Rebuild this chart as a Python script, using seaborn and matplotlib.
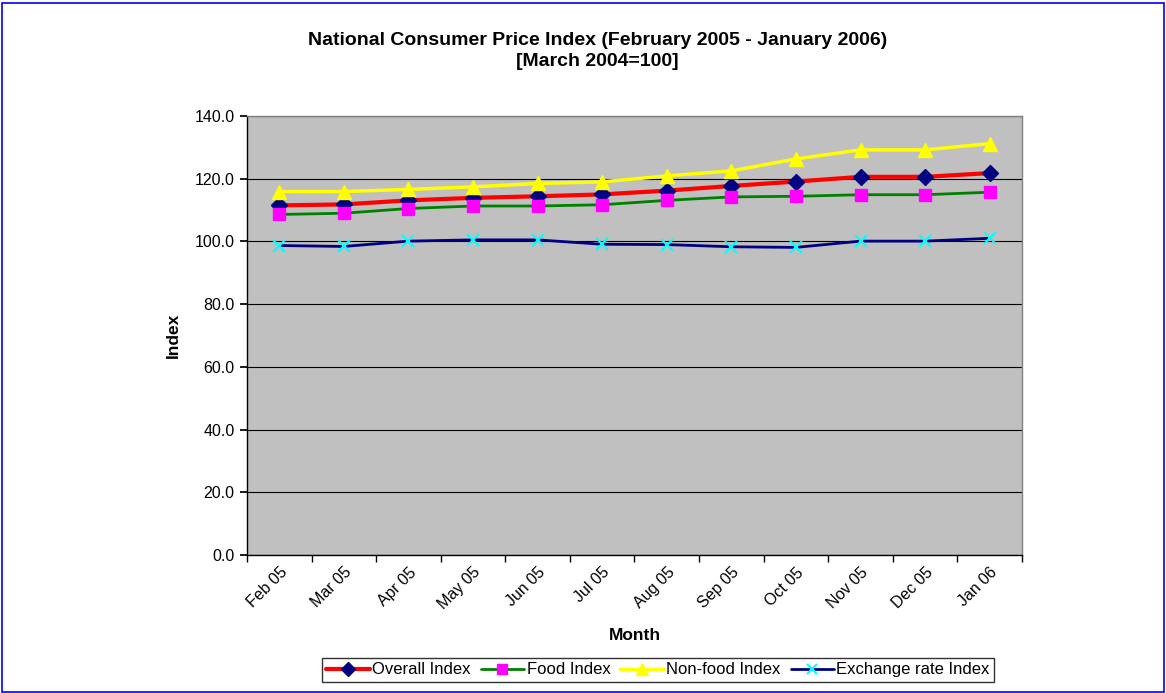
import numpy as np
import pandas as pd
import matplotlib
matplotlib.use('Agg')
import matplotlib.pyplot as plt
import seaborn as sns
from matplotlib.patches import Rectangle

# data
months = ['Feb 05', 'Mar 05', 'Apr 05', 'May 05', 'Jun 05', 'Jul 05',
          'Aug 05', 'Sep 05', 'Oct 05', 'Nov 05', 'Dec 05', 'Jan 06']
overall = [111.5, 111.8, 113.1, 113.9, 114.4, 115.0, 116.2, 117.7, 119.1, 120.6, 120.6, 121.8]
food = [108.6, 109.0, 110.5, 111.3, 111.3, 111.7, 113.1, 114.2, 114.4, 114.9, 114.9, 115.7]
nonfood = [115.9, 115.9, 116.6, 117.4, 118.5, 119.0, 120.9, 122.5, 126.3, 129.2, 129.2, 131.2]
exchange = [98.7, 98.4, 100.1, 100.5, 100.5, 99.1, 99.0, 98.3, 98.1, 100.1, 100.1, 101.0]

series = {
    'Overall Index': overall,
    'Food Index': food,
    'Non-food Index': nonfood,
    'Exchange rate Index': exchange,
}
df = pd.DataFrame([(m, name, v) for name, vals in series.items() for m, v in zip(months, vals)],
                  columns=['Month', 'Series', 'Index'])

sns.set_theme(style='white')
plt.rcParams['font.family'] = ['Liberation Sans', 'DejaVu Sans']
plt.rcParams['text.color'] = 'black'
plt.rcParams['axes.labelcolor'] = 'black'
plt.rcParams['xtick.color'] = 'black'
plt.rcParams['ytick.color'] = 'black'

fig = plt.figure(figsize=(11.66, 6.93), dpi=100)
ax = fig.add_axes([0.2118, 0.1991, 0.6647, 0.6335])
ax.set_facecolor('#C0C0C0')

styles = {
    'Overall Index': dict(color='#FF0000', lw=3.0, marker='D', mfc='#000080', mec='#000080', ms=8),
    'Food Index': dict(color='#008000', lw=2.0, marker='s', mfc='#FF00FF', mec='#FF00FF', ms=9),
    'Non-food Index': dict(color='#FFFF00', lw=2.5, marker='^', mfc='#FFFF00', mec='#FFFF00', ms=10),
    'Exchange rate Index': dict(color='#000080', lw=2.0, marker='x', mfc='#00FFFF', mec='#00FFFF', ms=9, mew=1.5),
}

handles = []
for name in series:
    st = styles[name]
    sub = df[df['Series'] == name]
    sns.lineplot(data=sub, x='Month', y='Index', ax=ax, color=st['color'], linewidth=st['lw'],
                 marker=st['marker'], markerfacecolor=st['mfc'], markeredgecolor=st['mec'],
                 markersize=st['ms'], markeredgewidth=st.get('mew', 1.0), sort=False)
    handles.append(ax.lines[-1])

ax.set_xlim(-0.5, 11.5)
ax.set_ylim(0, 140)
ax.set_yticks(np.arange(0, 141, 20))
ax.set_yticklabels(['%.1f' % v for v in np.arange(0, 141, 20)], fontsize=11.5)
ax.yaxis.grid(True, color='black', linewidth=0.8)
ax.set_axisbelow(True)

ax.set_xticks(range(len(months)))
ax.set_xticklabels(months, rotation=45, ha='right', rotation_mode='anchor', fontsize=11.5)
ax.set_xticks(np.arange(-0.5, 12, 1), minor=True)
ax.tick_params(axis='x', which='major', length=0, pad=7)
ax.tick_params(axis='x', which='minor', length=5, color='black', bottom=True)
ax.tick_params(axis='y', length=5, color='black', left=True, pad=4)

for s in ['left', 'bottom']:
    ax.spines[s].set_color('black')
    ax.spines[s].set_linewidth(1.0)
for s in ['top', 'right']:
    ax.spines[s].set_color('#808080')
    ax.spines[s].set_linewidth(1.0)

ax.set_xlabel('Month', fontsize=12.5, fontweight='bold', labelpad=11)
ax.set_ylabel('Index', fontsize=12.5, fontweight='bold', labelpad=10)

fig.text(0.5126, 0.941, 'National Consumer Price Index (February 2005 - January 2006)',
         ha='center', va='center', fontsize=14, fontweight='bold')
fig.text(0.5126, 0.911, '[March 2004=100]', ha='center', va='center', fontsize=14, fontweight='bold')

leg = fig.legend(handles, list(series.keys()), loc='center', bbox_to_anchor=(0.5644, 0.0332),
                 ncol=4, frameon=True, fontsize=12, fancybox=False, handlelength=2.6,
                 columnspacing=0.6, handletextpad=0.15, borderpad=0.25, markerscale=0.85)
leg.get_frame().set_edgecolor('black')
leg.get_frame().set_linewidth(1.0)

fig.patches.append(Rectangle((0.002, 0.002), 0.996, 0.994, transform=fig.transFigure,
                             fill=False, edgecolor='#0000FF', linewidth=1.2))

fig.savefig('out.png', dpi=100, facecolor='white')
